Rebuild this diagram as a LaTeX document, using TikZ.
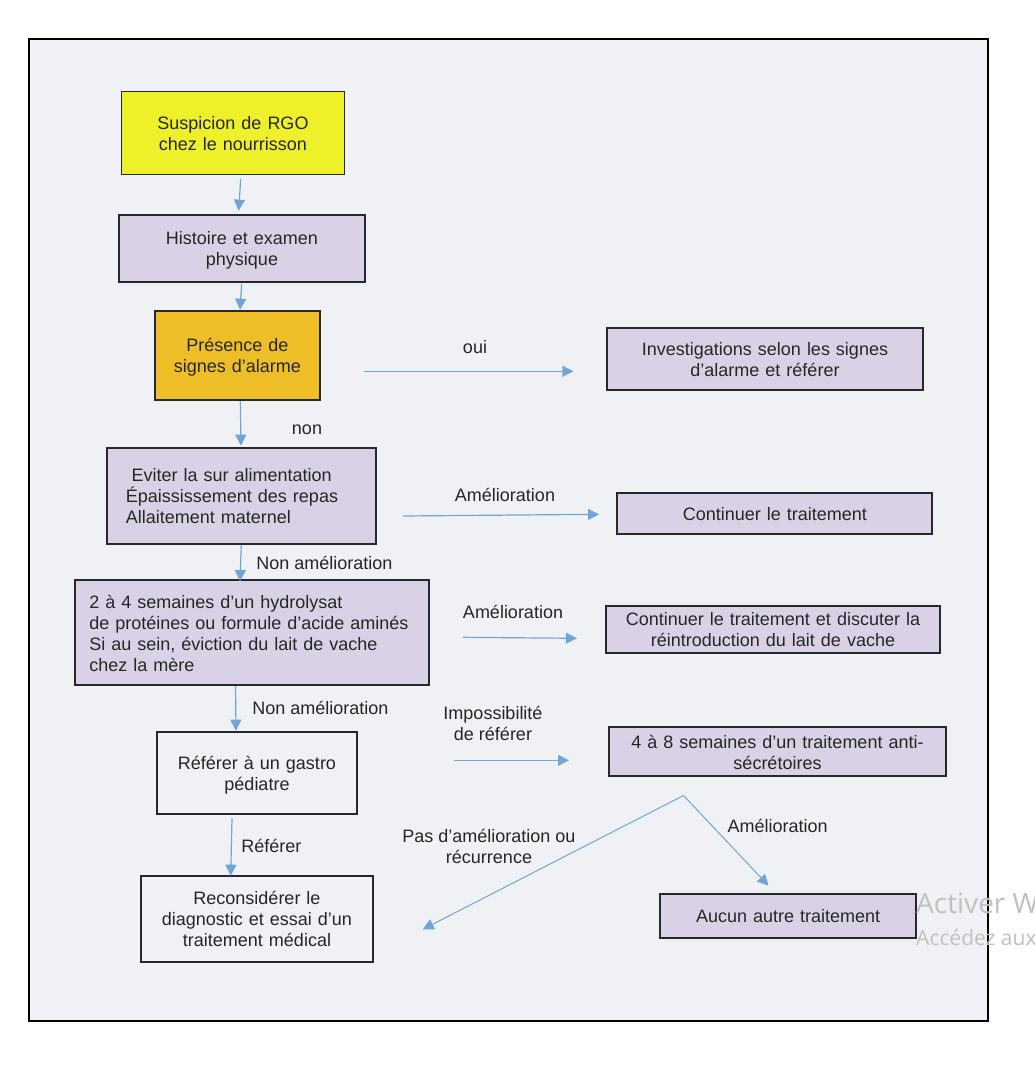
\documentclass[tikz,border=0pt]{standalone}
\usepackage{fontspec}
\setmainfont{Liberation Sans}
\newfontfamily\wmfont{Open Sans}
\newfontfamily\calfont{Carlito}
\usetikzlibrary{arrows.meta,calc}
\definecolor{bgc}{RGB}{240,241,245}
\definecolor{lav}{RGB}{217,210,230}
\definecolor{yel}{RGB}{238,241,41}
\definecolor{gold}{RGB}{238,190,40}
\definecolor{arrc}{RGB}{111,166,216}
\definecolor{ink}{RGB}{38,38,38}
\definecolor{bord}{RGB}{40,40,44}
\definecolor{wmc}{RGB}{192,192,192}
\begin{document}
\begin{tikzpicture}[x=1pt,y=-1pt,
  box/.style={draw=bord, line width=2pt, inner sep=0pt, align=center, text=ink,
              font=\fontsize{18}{21}\selectfont, text height=14.5pt},
  one/.style={text depth=0.5pt},
  two/.style={text depth=21.5pt},
  three/.style={text depth=42.5pt},
  four/.style={text depth=63.5pt},
  lbl/.style={text=ink, font=\fontsize{18}{21}\selectfont, inner sep=0pt, align=center},
  arr/.style={draw=arrc, line width=1.2pt, -{Triangle[length=11pt,width=11pt]}},
  diag/.style={draw=arrc, line width=1pt, -{Triangle[length=11pt,width=11pt]}},
  wm/.style={anchor=west, text=wmc, inner sep=0pt}
]
\useasboundingbox (0,0) rectangle (1035,1073);
\fill[white] (0,0) rectangle (1035,1073);
\draw[line width=2pt, fill=bgc] (29,39) rectangle (988,1021);

% boxes
\node[box, two, fill=yel, line width=1.2pt, minimum width=223.4pt, minimum height=83pt, text width=223.4pt]
  (sus) at (233,132.8) {Suspicion de RGO\\chez le nourrisson};
\node[box, two, fill=lav, minimum width=246.6pt, minimum height=67.3pt, text width=246.6pt]
  (hist) at (242,248.3) {Histoire et examen\\physique};
\node[box, two, fill=gold, minimum width=165.3pt, minimum height=89.3pt, text width=165.3pt]
  (pres) at (237.3,355.3) {Présence de\\signes d’alarme};
\node[box, two, fill=lav, minimum width=315.4pt, minimum height=62.3pt, text width=315.4pt]
  (inv) at (765,358.8) {Investigations selon les signes\\d’alarme et référer};
\node[box, three, fill=lav, minimum width=269.3pt, minimum height=96.3pt, text width=230.7pt,
      inner xsep=19.3pt, align=left]
  (evit) at (241.3,495.8) {\hspace*{5.7pt}Eviter la sur alimentation\\Épaississement des repas\\Allaitement maternel};
\node[box, one, fill=lav, minimum width=314.9pt, minimum height=41.6pt, text width=314.9pt]
  (cont) at (774.8,513.5) {Continuer le traitement};
\node[box, four, fill=lav, minimum width=354.6pt, minimum height=105pt, text width=325.4pt,
      inner xsep=14.6pt, align=left]
  (hydro) at (252,632.5) {2 à 4 semaines d’un hydrolysat\\de protéines ou formule d’acide aminés\\Si au sein, éviction du lait de vache\\chez la mère};
\node[box, two, fill=lav, minimum width=334.5pt, minimum height=47pt, text width=334.5pt]
  (contd) at (773,629.2) {Continuer le traitement et discuter la\\réintroduction du lait de vache};
\node[box, two, fill=bgc, minimum width=200.6pt, minimum height=82.3pt, text width=200.6pt]
  (ref) at (257,772.8) {Référer à un gastro\\pédiatre};
\node[box, two, fill=lav, minimum width=337pt, minimum height=49pt, text width=337pt]
  (sec) at (777.5,751.5) {4 à 8 semaines d’un traitement anti-\\sécrétoires};
\node[box, three, fill=bgc, minimum width=232.6pt, minimum height=86.3pt, text width=232.6pt]
  (recon) at (257,918.8) {Reconsidérer le\\diagnostic et essai d’un\\traitement médical};
\node[box, one, fill=lav, minimum width=255.7pt, minimum height=43.7pt, text width=255.7pt]
  (aucun) at (788.2,915.8) {Aucun autre traitement};

% labels
\node[lbl] (loui) at (475,346.7) {oui};
\node[lbl] (lnon) at (307,430) {non};
\node[lbl] (lam1) at (505,495) {Amélioration};
\node[lbl] (lnam1) at (324.5,563) {Non amélioration};
\node[lbl] (lam2) at (513,612.3) {Amélioratio{\calfont\fontsize{19}{21}\selectfont n}};
\node[lbl] (lnam2) at (320.5,708) {Non amélioration};
\node[lbl] (limp) at (493,723) {Impossibilité\\de référer};
\node[lbl] (lrefer) at (271.3,845.7) {Référer};
\node[lbl] (lpas) at (489,846.2) {Pas d’amélioration ou\\récurrence};
\node[lbl] (lam3) at (777.7,826) {Amélioration};

% connectors
\draw[arr] ($(sus.south)+(7.7,3.7)$) -- ($(hist.north)+(-3.3,-3)$);
\draw[arr] ($(hist.south)+(-0.3,0.7)$) -- ($(pres.north)+(2.7,0)$);
\draw[arr] ($(pres.south)+(3,0)$) -- ($(evit.north)+(-0.3,-1)$);
\draw[arr] (evit.south) -- ($(hydro.north)+(-12,2)$);
\draw[arr] ($(hydro.south)+(-16.5,0)$) -- ($(ref.north)+(-21,0)$);
\draw[arr] ($(ref.south)+(-25,3.3)$) -- ($(recon.north)+(-26.3,1)$);
\draw[arr] ($(pres.east)+(43.3,16)$) -- ($(inv.west)+(-32.9,12.5)$);
\draw[arr] ($(evit.east)+(26,20.2)$) -- ($(cont.west)+(-17.3,0.8)$);
\draw[arr] ($(hydro.east)+(32.2,4.8)$) -- ($(contd.west)+(-27.8,9.1)$);
\draw[arr] ($(ref.east)+(95.7,-12.5)$) -- ($(sec.west)+(-39,8.8)$);
\coordinate (fork) at ($(sec.south)+(-94,18.5)$);
\draw[diag] (fork) -- ($(recon.east)+(48.5,10.5)$);
\draw[diag] (fork) -- ($(aucun.north)+(-19.7,-7.3)$);

% watermark
\node[wm, font=\wmfont\fontsize{28}{30}\selectfont] (wm1) at (916,903.3) {Activer W};
\node[wm, font=\wmfont\fontsize{21}{24}\selectfont] (wm2) at (916,937.7) {Accédez aux};
\end{tikzpicture}
\end{document}
